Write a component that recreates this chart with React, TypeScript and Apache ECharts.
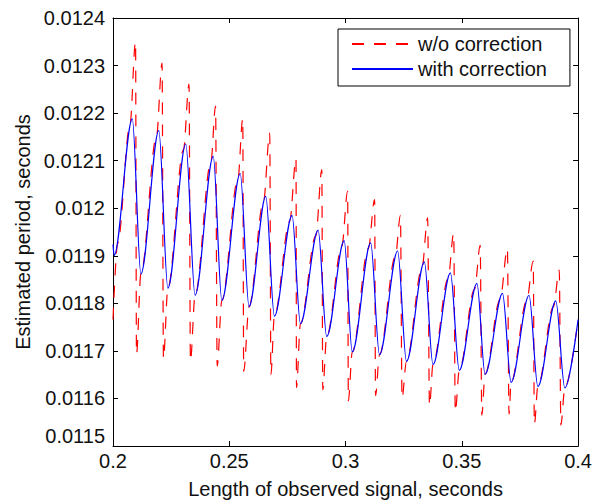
import { useEffect, useRef } from "react";
import * as echarts from "echarts";

// ---- data ----
const xTicks = [0.2, 0.25, 0.3, 0.35, 0.4];
const yTicks = [0.0115, 0.0116, 0.0117, 0.0118, 0.0119, 0.012, 0.0121, 0.0122, 0.0123, 0.0124];

// "with correction" (blue) : start of the curve, local maxima, local minima, end
const blueStart: number[][] = [[0.2, 0.011924], [0.2005, 0.011901]];
const peakX = [0.2083, 0.2197, 0.2313, 0.2431, 0.2547, 0.2657, 0.277, 0.2882, 0.2994, 0.3108, 0.3224, 0.3339, 0.3451, 0.3565, 0.3675, 0.3789, 0.3904];
const peakY = [0.012188, 0.012163, 0.012135, 0.012109, 0.012073, 0.012025, 0.011985, 0.011954, 0.011932, 0.011927, 0.01191, 0.011887, 0.011864, 0.011842, 0.011821, 0.011817, 0.011805];
const troughX = [0.212, 0.2236, 0.2353, 0.2468, 0.2585, 0.2694, 0.2806, 0.2919, 0.3029, 0.3146, 0.3262, 0.3376, 0.3489, 0.36, 0.3712, 0.3827, 0.3943];
const troughY = [0.011862, 0.011832, 0.011817, 0.011806, 0.011793, 0.011773, 0.011757, 0.01173, 0.011698, 0.011692, 0.011678, 0.011671, 0.011659, 0.011651, 0.011634, 0.011625, 0.011622];
const curveEnd = [0.4, 0.011766];

// "w/o correction" (red): start, points where it leaves the blue curve, spike tops, spike bottoms
const redStart: number[][] = [[0.2, 0.011766], [0.202, 0.011926]];
const leaveX = [0.2073, 0.2187, 0.2303, 0.2421, 0.2537, 0.2647, 0.276, 0.2872, 0.2984, 0.3098, 0.3214, 0.3329, 0.3441, 0.3555, 0.3665, 0.3779, 0.3894];
const leaveY = [0.012176, 0.012151, 0.012123, 0.012097, 0.012061, 0.012013, 0.011973, 0.011942, 0.01192, 0.011915, 0.011898, 0.011875, 0.011852, 0.01183, 0.011809, 0.011805, 0.011793];
const spikeTopX = [0.2097, 0.2211, 0.2327, 0.2441, 0.2558, 0.2674, 0.2787, 0.2898, 0.3009, 0.3125, 0.3236, 0.3353, 0.3465, 0.3579, 0.3696, 0.3807, 0.3919];
const spikeTopY = [0.01235, 0.012305, 0.012261, 0.012215, 0.012188, 0.012158, 0.012104, 0.012081, 0.012036, 0.012018, 0.011985, 0.01198, 0.011947, 0.011922, 0.011915, 0.011889, 0.01187];
const spikeBottomX = [0.2101, 0.2217, 0.2333, 0.2448, 0.2562, 0.2679, 0.2789, 0.2902, 0.3012, 0.3129, 0.3243, 0.3361, 0.3472, 0.3586, 0.3703, 0.3812, 0.3926];
const spikeBottomY = [0.011693, 0.011684, 0.011679, 0.011668, 0.011657, 0.01165, 0.011623, 0.011618, 0.011595, 0.011606, 0.011601, 0.011585, 0.011572, 0.011565, 0.011567, 0.011546, 0.011544];

const seriesNames = ["w/o correction", "with correction"];

// ---- build series data ----
const blueData: number[][] = [...blueStart];
peakX.forEach((px, i) => {
  blueData.push([px, peakY[i]]);
  blueData.push([troughX[i], troughY[i]]);
});
blueData.push(curveEnd);

const redData: number[][] = [...redStart];
leaveX.forEach((lx, i) => {
  redData.push([lx, leaveY[i]]);
  redData.push([spikeTopX[i], spikeTopY[i]]);
  redData.push([spikeBottomX[i], spikeBottomY[i]]);
  redData.push([troughX[i], troughY[i]]);
});
redData.push(curveEnd);

const FONT = "'Liberation Sans', Arial, Helvetica, sans-serif";
const TXT = "#111";

const fmtX = (v: number) => String(parseFloat(v.toFixed(2)));
const fmtY = (v: number) => String(parseFloat(v.toFixed(4)));

export default function App() {
  const ref = useRef<HTMLDivElement>(null);
  useEffect(() => {
    if (!ref.current) return;
    const chart = echarts.init(ref.current, null, { renderer: "svg" });
    const axisLine = { show: true, onZero: false, lineStyle: { color: "#000", width: 1 } };
    const axisTick = { show: true, inside: true, length: 5, lineStyle: { color: "#000", width: 1 } };
    const xBase = { type: "value", min: xTicks[0], max: xTicks[xTicks.length - 1], interval: 0.05, splitLine: { show: false } };
    const yBase = { type: "value", min: yTicks[0], max: yTicks[yTicks.length - 1], interval: 0.0001, splitLine: { show: false } };
    chart.setOption({
      animation: false,
      backgroundColor: "#fff",
      grid: { left: 113, right: 15, top: 18, bottom: 56, containLabel: false },
      legend: {
        data: seriesNames,
        orient: "vertical",
        left: 338,
        top: 29,
        padding: [5, 23, 7, 13],
        itemWidth: 61,
        itemHeight: 20,
        itemGap: 5,
        borderColor: "#000",
        borderWidth: 1,
        backgroundColor: "#fff",
        borderRadius: 0,
        selectedMode: false,
        itemStyle: { opacity: 0, color: "rgba(0,0,0,0)", borderWidth: 0 },
        textStyle: { fontSize: 20, color: TXT, fontFamily: FONT },
      },
      xAxis: [
        {
          ...xBase,
          position: "bottom",
          axisLine,
          axisTick,
          axisLabel: { color: TXT, fontSize: 20, fontFamily: FONT, margin: 5, formatter: fmtX },
          name: "Length of observed signal, seconds",
          nameLocation: "middle",
          nameGap: 33,
          nameTextStyle: { fontSize: 20, color: TXT, fontFamily: FONT },
        },
        { ...xBase, position: "top", axisLine, axisTick, axisLabel: { show: false } },
      ],
      yAxis: [
        {
          ...yBase,
          position: "left",
          axisLine,
          axisTick,
          axisLabel: {
            color: TXT,
            fontSize: 20,
            fontFamily: FONT,
            margin: 8,
            formatter: fmtY,
            verticalAlignMinLabel: "bottom",
          },
          name: "Estimated period, seconds",
          nameLocation: "middle",
          nameGap: 80,
          nameTextStyle: { fontSize: 20, color: TXT, fontFamily: FONT },
        },
        { ...yBase, position: "right", axisLine, axisTick, axisLabel: { show: false } },
      ],
      series: [
        {
          name: seriesNames[0],
          type: "line",
          data: redData,
          xAxisIndex: 0,
          yAxisIndex: 0,
          showSymbol: false,
          symbol: "none",
          smooth: 0.333,
          smoothMonotone: "x",
          itemStyle: { color: "#ff0000" },
          lineStyle: { color: "#ff0000", width: 1.2, type: [12, 10] },
          z: 2,
        },
        {
          name: seriesNames[1],
          type: "line",
          data: blueData,
          xAxisIndex: 0,
          yAxisIndex: 0,
          showSymbol: false,
          symbol: "none",
          smooth: 0.333,
          smoothMonotone: "x",
          itemStyle: { color: "#0000ff" },
          lineStyle: { color: "#0000ff", width: 1.2 },
          z: 3,
        },
      ],
    });
    return () => chart.dispose();
  }, []);
  return (
    <div
      ref={ref}
      style={{ position: "absolute", left: 0, top: 0, width: 595, height: 504, background: "#fff" }}
    />
  );
}
